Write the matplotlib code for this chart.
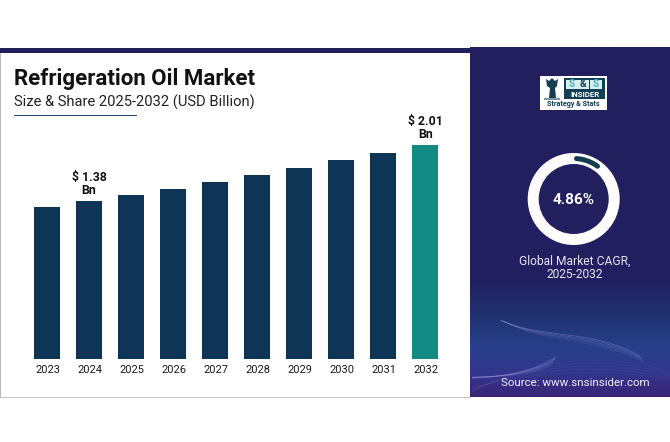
import numpy as np
import matplotlib
matplotlib.use("Agg")
import matplotlib.pyplot as plt
from matplotlib.colors import LinearSegmentedColormap
from matplotlib.patches import Rectangle, Circle, PathPatch, Polygon
from matplotlib.path import Path

plt.rcParams['font.family'] = ['Roboto', 'DejaVu Sans']

years = ['2023', '2024', '2025', '2026', '2027', '2028', '2029', '2030', '2031', '2032']
values = [1.31, 1.38, 1.45, 1.515, 1.59, 1.67, 1.75, 1.84, 1.92, 2.01]
bar_labels = {'2024': '$ 1.38\nBn', '2032': '$ 2.01\nBn'}
title = 'Refrigeration Oil Market'
subtitle = 'Size & Share 2025-2032 (USD Billion)'
cagr_label = '4.86%'
cagr_caption = 'Global Market CAGR,\n2025-2032'
source = 'Source: www.snsinsider.com'

NAVY = '#0f3556'
TEAL = '#138a84'
FLOOR = -0.3975

W, H = 670, 442
fig = plt.figure(figsize=(W / 100, H / 100), dpi=100, facecolor='white')

bg = fig.add_axes([0, 0, 1, 1])
bg.set_xlim(0, W)
bg.set_ylim(H, 0)
bg.axis('off')

bg.add_patch(Rectangle((0, 53), 1.2, 344.5, color='#b9b9b9', lw=0))
bg.add_patch(Rectangle((0, 397), 470, 1, color='#c4c4c4', lw=0))
bg.add_patch(Rectangle((0, 48), W, 5, color='#211f5c', lw=0))
bg.add_patch(Rectangle((13.5, 114.5), 123.5, 1.5, color='#1f3f78', lw=0))

cmap = LinearSegmentedColormap.from_list('panel', [
    (0.00, '#211f5e'), (0.66, '#211f60'), (0.76, '#20306e'),
    (0.86, '#27408a'), (0.93, '#32378c'), (1.00, '#3a2478')])
bg.imshow(np.linspace(0, 1, 256)[:, None], extent=(470, W, 397.5, 48), cmap=cmap,
          aspect='auto', zorder=1)
bg.set_xlim(0, W)
bg.set_ylim(H, 0)

def wave(p0, c1, c2, p1, color='#a9a6e6', lw=1.0, alpha=0.5):
    bg.add_patch(PathPatch(Path([p0, c1, c2, p1], [Path.MOVETO, Path.CURVE4, Path.CURVE4, Path.CURVE4]),
                           fc='none', ec=color, lw=lw, alpha=alpha, zorder=2))

for k in range(5):
    wave((500 + k, 320 + k * 0.3), (545, 340 + k), (590, 328 + k * 2), (640 + k, 356 + k * 1.5), lw=0.5,
         alpha=0.38 - k * 0.06)
    wave((472, 377 + k * 0.4), (510, 377 - k * 0.3), (535, 370 + k), (556 - k, 357 + k * 2), lw=0.5,
         alpha=0.45 - k * 0.07)
    wave((472, 392 - k), (530, 360 + k * 3), (600, 350 + k * 4), (670, 372 + k * 2), color='#6f74cf', lw=0.4,
         alpha=0.18)

# logo
LOGO = '#123f56'
bg.add_patch(Rectangle((540, 76), 67, 34, color='white', lw=0, zorder=3))
bg.add_patch(Polygon([(546, 79), (549, 81), (552, 78), (555, 81), (558, 79), (557, 86), (555, 88), (556, 98),
                      (549, 98), (550, 88), (547, 86)], closed=True, color=LOGO, lw=0, zorder=4))
bg.add_patch(Rectangle((544, 98), 16, 1.5, color='#7d98a5', lw=0, zorder=4))
bg.add_patch(Rectangle((564, 78), 41, 21, color=LOGO, lw=0, zorder=4))
for tile_x in (566, 577.5, 590):
    bg.add_patch(Rectangle((tile_x, 79.5), 12 if tile_x != 577.5 else 11, 9, color='#d9eeee', lw=0, zorder=4.5))
bg.text(572, 84, 'S', color='#46b3b3', fontsize=7.2, fontweight='bold', ha='center', va='center', zorder=5)
bg.text(583, 84, '&', color=LOGO, fontsize=7.2, fontweight='bold', ha='center', va='center', zorder=5)
bg.text(596, 84, 'S', color='#46b3b3', fontsize=7.2, fontweight='bold', ha='center', va='center', zorder=5)
bg.text(585, 94.5, 'INSIDER', color='white', fontsize=5.6, fontweight='bold', ha='center', va='center', zorder=5)
bg.text(573.5, 104.5, 'Strategy & Stats', color=LOGO, fontsize=5.1, fontweight='bold', ha='center',
        va='center', zorder=5)

# donut
cx, cy = 573.7, 199
bg.add_patch(Circle((cx, cy), 46, fc='#fdfdfd', ec='none', zorder=3))
bg.add_patch(Circle((cx, cy), 35, fc='#211f5e', ec='none', zorder=4))
a = np.radians(np.linspace(4, 36, 30))
bg.plot(cx + 40.5 * np.sin(a), cy - 40.5 * np.cos(a), color='#0f3f4f', lw=3.6, solid_capstyle='round', zorder=5)

bg.text(cx, 200.5, cagr_label, color='white', fontsize=11, fontweight='bold', ha='center', va='center', zorder=6)
bg.text(574.5, 267.5, cagr_caption, color='#e4e4f6', fontsize=8.65, ha='center', va='center', linespacing=1.0, zorder=6)
bg.text(575, 382.5, source, color='#f0eefc', fontsize=8.25, ha='center', va='center', zorder=6)

bg.text(14, 79, title, color='#111111', fontsize=16, fontweight='bold', ha='left', va='center')
bg.text(14, 102.5, subtitle, color='#222222', fontsize=10.6, ha='left', va='center')

# bar chart
left, right, top, bottom = 26, 446.5, 100, 359
ax = fig.add_axes([left / W, 1 - bottom / H, (right - left) / W, (bottom - top) / H])
ax.patch.set_alpha(0)
x = np.arange(len(years))
colors = [TEAL if y == '2032' else NAVY for y in years]
heights = np.array(values) - FLOOR
ax.bar(x, heights, bottom=FLOOR, width=26 / 42.05, color=colors, linewidth=0)
ax.set_xlim(-0.5, len(years) - 0.5)
ax.set_ylim(FLOOR, FLOOR + (bottom - top) * 0.01125)
ax.set_yticks([])
ax.set_xticks(x + 0.02, years)
ax.tick_params(axis='x', length=0, pad=4.2, labelsize=7.9, labelcolor='#1a1a1a')
for s in ax.spines.values():
    s.set_visible(False)
for i, y in enumerate(years):
    if y in bar_labels:
        ax.annotate(bar_labels[y], (i, values[i]), xytext=(0, 2.6), textcoords='offset points', ha='center',
                    va='bottom', fontsize=8.8, fontweight='bold', color='#111111', linespacing=1.0)

fig.savefig('out.png', dpi=100)
